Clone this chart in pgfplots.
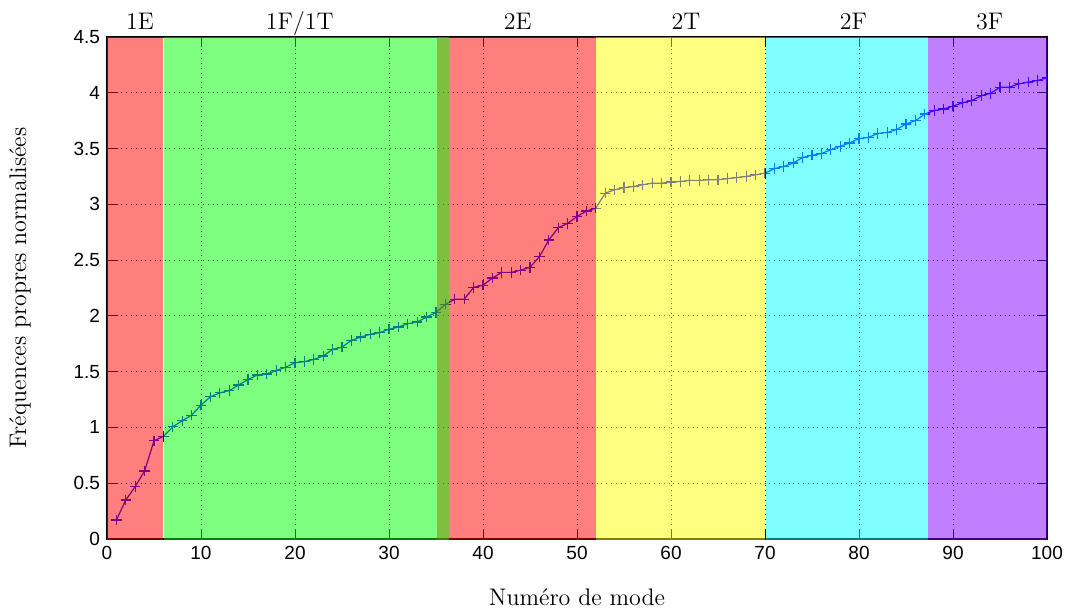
\documentclass[border=0pt]{standalone}
\usepackage{fontspec}
\usepackage{pgfplots}
\pgfplotsset{compat=1.18}
\newfontfamily\ticksfont{Liberation Sans}
\definecolor{pR}{RGB}{255,0,0}
\definecolor{pG}{RGB}{0,255,0}
\definecolor{pY}{RGB}{255,255,0}
\definecolor{pC}{RGB}{0,255,255}
\definecolor{pP}{RGB}{128,0,255}
\begin{document}
\begin{tikzpicture}
\begin{axis}[
  set layers,
  clip marker paths=true,
  at={(0,0)}, anchor=south west,
  scale only axis, width=470pt, height=251pt,
  xmin=0, xmax=100, ymin=0, ymax=4.5,
  xtick={0,10,...,100},
  ytick={0,0.5,1,1.5,2,2.5,3,3.5,4,4.5},
  yticklabels={0,0.5,1,1.5,2,2.5,3,3.5,4,4.5},
  /pgf/number format/assume math mode=true,
  ticklabel style={font=\ticksfont\fontsize{9.5}{11}\selectfont},
  tick align=inside,
  major tick length=5pt,
  tick style={black, line width=0.5pt},
  grid=major,
  grid style={black, dotted, line width=0.5pt},
  axis line style={black, line width=0.6pt},
  xlabel={Numéro de mode},
  ylabel={Fréquences propres normalisées},
  label style={font=\fontsize{12}{14}\selectfont},
  xlabel style={at={(axis description cs:0.5,-0.133)}, anchor=base},
  ylabel style={at={(axis description cs:-0.0925,0.5)}, anchor=center},
  clip=true,
]
\addplot[color=blue, mark=+, mark size=2.6pt, line width=0.6pt, mark options={line width=0.6pt}] coordinates {
(1,0.17)(2,0.35)(3,0.47)(4,0.61)(5,0.88)(6,0.92)(7,1.006)(8,1.06)(9,1.11)(10,1.20)
(11,1.275)(12,1.31)(13,1.33)(14,1.38)(15,1.43)(16,1.47)(17,1.48)(18,1.51)(19,1.54)(20,1.58)
(21,1.59)(22,1.61)(23,1.64)(24,1.70)(25,1.72)(26,1.78)(27,1.81)(28,1.835)(29,1.85)(30,1.88)
(31,1.90)(32,1.93)(33,1.945)(34,1.99)(35,2.03)(36,2.105)(37,2.15)(38,2.15)(39,2.255)(40,2.275)
(41,2.34)(42,2.39)(43,2.39)(44,2.41)(45,2.435)(46,2.53)(47,2.68)(48,2.79)(49,2.83)(50,2.89)
(51,2.94)(52,2.966)(53,3.10)(54,3.13)(55,3.15)(56,3.16)(57,3.175)(58,3.19)(59,3.19)(60,3.20)
(61,3.205)(62,3.215)(63,3.215)(64,3.22)(65,3.22)(66,3.23)(67,3.24)(68,3.25)(69,3.265)(70,3.28)
(71,3.32)(72,3.34)(73,3.37)(74,3.42)(75,3.44)(76,3.455)(77,3.49)(78,3.52)(79,3.55)(80,3.59)
(81,3.60)(82,3.635)(83,3.645)(84,3.67)(85,3.72)(86,3.75)(87,3.81)(88,3.84)(89,3.855)(90,3.88)
(91,3.91)(92,3.93)(93,3.975)(94,3.995)(95,4.05)(96,4.05)(97,4.08)(98,4.095)(99,4.11)(100,4.135)
};
\addplot[draw=none, fill=pR, fill opacity=0.5] coordinates {(0,-0.1)(6.0,-0.1)(6.0,4.6)(0,4.6)} -- cycle;
\addplot[draw=none, fill=pR, fill opacity=0.5] coordinates {(35.1,-0.1)(52.0,-0.1)(52.0,4.6)(35.1,4.6)} -- cycle;
\addplot[draw=none, fill=pG, fill opacity=0.5] coordinates {(6.1,-0.1)(36.4,-0.1)(36.4,4.6)(6.1,4.6)} -- cycle;
\addplot[draw=none, fill=pY, fill opacity=0.5] coordinates {(52.05,-0.1)(70.0,-0.1)(70.0,4.6)(52.05,4.6)} -- cycle;
\addplot[draw=none, fill=pC, fill opacity=0.5] coordinates {(70.1,-0.1)(87.3,-0.1)(87.3,4.6)(70.1,4.6)} -- cycle;
\addplot[draw=none, fill=pP, fill opacity=0.5] coordinates {(87.3,-0.1)(100.5,-0.1)(100.5,4.6)(87.3,4.6)} -- cycle;
\end{axis}
\begin{scope}[every node/.style={font=\fontsize{12}{14}\selectfont, anchor=base, inner sep=0pt}]
\node at (3.5*4.7pt, 254.5pt) {1E};
\node at (20.5*4.7pt, 254.5pt) {1F/1T};
\node at (43.7*4.7pt, 254.5pt) {2E};
\node at (61.6*4.7pt, 254.5pt) {2T};
\node at (79.4*4.7pt, 254.5pt) {2F};
\node at (93.9*4.7pt, 254.5pt) {3F};
\end{scope}
\pgfresetboundingbox
\path[use as bounding box] (-53.5pt,-36pt) rectangle (481pt,269.5pt);
\end{tikzpicture}
\end{document}
